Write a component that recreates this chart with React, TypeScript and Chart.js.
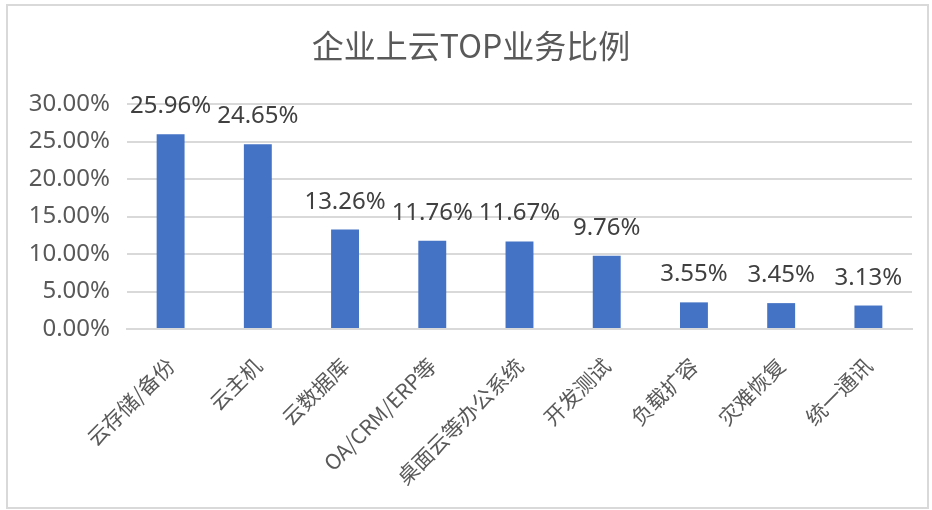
import React, { useEffect, useRef } from "react";
import { Chart, registerables } from "chart.js";

Chart.register(...registerables);

const categories = ["云存储/备份", "云主机", "云数据库", "OA/CRM/ERP等", "桌面云等办公系统", "开发测试", "负载扩容", "灾难恢复", "统一通讯"];
const values = [25.96, 24.65, 13.26, 11.76, 11.67, 9.76, 3.55, 3.45, 3.13];
const yTicks = [0, 5, 10, 15, 20, 25, 30];
const title = "企业上云TOP业务比例";

const LATIN = "'Noto Sans', 'Noto Sans CJK SC', sans-serif";
const CJK = "'Noto Sans CJK SC', 'Noto Sans', sans-serif";

export default function App() {
  const ref = useRef<HTMLCanvasElement>(null);
  useEffect(() => {
    document.body.style.margin = "0";
    const ctx = ref.current!;
    const labelPlugin = {
      id: "labels",
      afterDatasetsDraw(chart: any) {
        const c = chart.ctx;
        const meta = chart.getDatasetMeta(0);
        c.save();
        c.font = `24px ${LATIN}`;
        c.fillStyle = "#404040";
        c.textAlign = "center";
        c.textBaseline = "alphabetic";
        meta.data.forEach((bar: any, i: number) => {
          c.fillText(values[i].toFixed(2) + "%", bar.x, bar.y - 21);
        });
        c.restore();
      },
      afterDraw(chart: any) {
        const c = chart.ctx;
        c.save();
        c.font = `32px ${CJK}`;
        c.fillStyle = "#595959";
        c.textAlign = "center";
        c.textBaseline = "middle";
        c.fillText(title, 471, 46);
        c.restore();
      },
    };
    const chart = new Chart(ctx, {
      type: "bar",
      data: {
        labels: categories,
        datasets: [
          {
            data: values,
            backgroundColor: "#4472C4",
            barPercentage: 0.32,
            categoryPercentage: 1,
          },
        ],
      },
      options: {
        animation: false,
        responsive: false,
        maintainAspectRatio: false,
        layout: { padding: { top: 104, left: 0, right: 20, bottom: 0 } },
        plugins: { legend: { display: false }, tooltip: { enabled: false }, title: { display: false } },
        scales: {
          x: {
            grid: { display: false },
            border: { color: "#d9d9d9", width: 2 },
            ticks: {
              minRotation: 45,
              maxRotation: 45,
              autoSkip: false,
              color: "#595959",
              font: { family: CJK, size: 21 },
              padding: 16,
            },
            afterFit(scale: any) {
              scale.height = 181;
            },
          },
          y: {
            min: 0,
            max: 30,
            afterBuildTicks(scale: any) {
              scale.ticks = yTicks.map((v) => ({ value: v }));
            },
            grid: { color: "#d9d9d9", lineWidth: 2, drawTicks: false },
            border: { display: false },
            ticks: {
              color: "#595959",
              font: { family: LATIN, size: 24 },
              padding: 17,
              callback: (v: any) => Number(v).toFixed(2) + "%",
            },
            afterFit(scale: any) {
              scale.width = 127;
            },
          },
        },
      },
      plugins: [labelPlugin],
    });
    return () => chart.destroy();
  }, []);
  return (
    <div style={{ position: "relative", width: 932, height: 510, background: "#fff" }}>
      <canvas ref={ref} width={932} height={510} style={{ position: "absolute", left: 0, top: 0 }} />
      <div
        style={{
          position: "absolute",
          left: 6,
          top: 4,
          width: 919,
          height: 501,
          border: "2px solid #d9d9d9",
          boxSizing: "content-box",
          pointerEvents: "none",
        }}
      />
    </div>
  );
}
